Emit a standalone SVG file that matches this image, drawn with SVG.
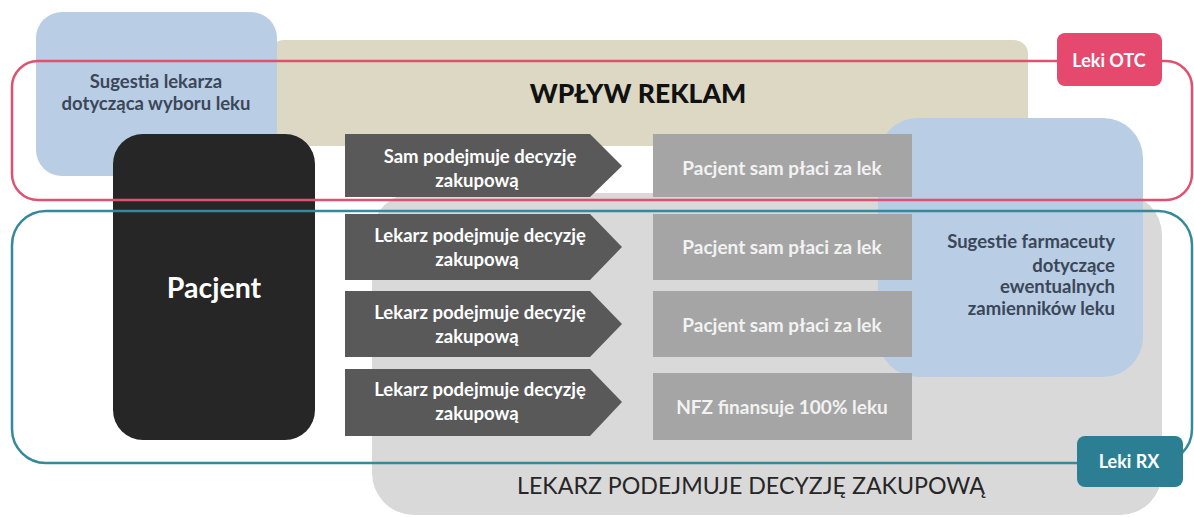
<svg xmlns="http://www.w3.org/2000/svg" width="1194" height="517" viewBox="0 0 1194 517">
  <style>
    text { font-family: Lato, "Open Sans", "Liberation Sans", sans-serif; }
    .blue { fill: #b9cde5; }
    .chev { fill: #595959; }
    .pay { fill: #a5a5a5; }
    .ct { fill: #ffffff; font-size: 18.5px; font-weight: 700; text-anchor: middle; }
    .pt { fill: #f2f2f2; font-size: 19px; font-weight: 700; text-anchor: middle; }
    .slate { fill: #3b4758; font-weight: 700; }
    .ring { fill: none; stroke-width: 2.5; }
  </style>

  <!-- background areas -->
  <g id="advertising">
    <rect x="270" y="40" width="758" height="106" rx="14" fill="#dcd8c3"/>
    <text x="638" y="103" font-size="26.5" font-weight="900" fill="#111" text-anchor="middle">WPŁYW REKLAM</text>
  </g>

  <g id="doctor-suggestion">
    <rect class="blue" x="36" y="12" width="241" height="164" rx="26"/>
    <text class="slate" x="156" y="88" font-size="18.5" text-anchor="middle">Sugestia lekarza</text>
    <text class="slate" x="156" y="110" font-size="18.5" text-anchor="middle">dotycząca wyboru leku</text>
  </g>

  <g id="doctor-decision">
    <rect x="372" y="193" width="790" height="322" rx="42" fill="#d9d9d9"/>
    <text x="751" y="494" font-size="23.2" fill="#262626" text-anchor="middle">LEKARZ PODEJMUJE DECYZJĘ ZAKUPOWĄ</text>
  </g>

  <g id="pharmacist-suggestion">
    <rect class="blue" x="878" y="118" width="265" height="259" rx="40"/>
    <text class="slate" x="1115" y="248" font-size="18.5" text-anchor="end">Sugestie farmaceuty</text>
    <text class="slate" x="1115" y="272" font-size="18.5" text-anchor="end">dotyczące</text>
    <text class="slate" x="1000" y="293" font-size="18.5" textLength="115" lengthAdjust="spacing">ewentualnych</text>
    <text class="slate" x="1115" y="315" font-size="18.5" text-anchor="end">zamienników leku</text>
  </g>

  <g id="patient">
    <rect x="113" y="134" width="202" height="306" rx="30" fill="#262626"/>
    <text x="214" y="298" font-size="28.5" font-weight="700" fill="#ffffff" text-anchor="middle">Pacjent</text>
  </g>

  <!-- decision chevrons -->
  <g id="decision-1">
    <polygon class="chev" points="345,134 590,134 622,166 590,197 345,197"/>
    <text class="ct" x="480" y="163">Sam podejmuje decyzję</text>
    <text class="ct" x="477" y="187">zakupową</text>
  </g>
  <g id="decision-2">
    <polygon class="chev" points="345,214 590,214 622,247 590,280 345,280"/>
    <text class="ct" x="480" y="242">Lekarz podejmuje decyzję</text>
    <text class="ct" x="477" y="266">zakupową</text>
  </g>
  <g id="decision-3">
    <polygon class="chev" points="345,291 590,291 622,324 590,357 345,357"/>
    <text class="ct" x="480" y="319">Lekarz podejmuje decyzję</text>
    <text class="ct" x="477" y="343">zakupową</text>
  </g>
  <g id="decision-4">
    <polygon class="chev" points="345,369 590,369 622,402 590,436 345,436"/>
    <text class="ct" x="480" y="396">Lekarz podejmuje decyzję</text>
    <text class="ct" x="477" y="420">zakupową</text>
  </g>

  <!-- payment boxes -->
  <g id="payment-1">
    <rect class="pay" x="653" y="134" width="259" height="63"/>
    <text class="pt" x="782" y="175">Pacjent sam płaci za lek</text>
  </g>
  <g id="payment-2">
    <rect class="pay" x="653" y="214" width="259" height="66"/>
    <text class="pt" x="782" y="254">Pacjent sam płaci za lek</text>
  </g>
  <g id="payment-3">
    <rect class="pay" x="653" y="291" width="259" height="66"/>
    <text class="pt" x="782" y="332">Pacjent sam płaci za lek</text>
  </g>
  <g id="payment-4">
    <rect class="pay" x="653" y="373" width="259" height="67"/>
    <text class="pt" x="782" y="414">NFZ finansuje 100% leku</text>
  </g>

  <!-- category outlines -->
  <g id="connectors">
    <rect class="ring" x="12" y="61" width="1180" height="139" rx="26" stroke="#e0506f"/>
    <rect class="ring" x="12" y="211" width="1180" height="252" rx="34" stroke="#35899a"/>
  </g>

  <g id="otc-label">
    <rect x="1057" y="33" width="105" height="53" rx="8" fill="#e54a6e"/>
    <text x="1109" y="67" font-size="18" font-weight="700" fill="#ffffff" text-anchor="middle">Leki OTC</text>
  </g>
  <g id="rx-label">
    <rect x="1077" y="436" width="106" height="51" rx="8" fill="#2c7f93"/>
    <text x="1129" y="468" font-size="18" font-weight="700" fill="#ffffff" text-anchor="middle">Leki RX</text>
  </g>
</svg>
